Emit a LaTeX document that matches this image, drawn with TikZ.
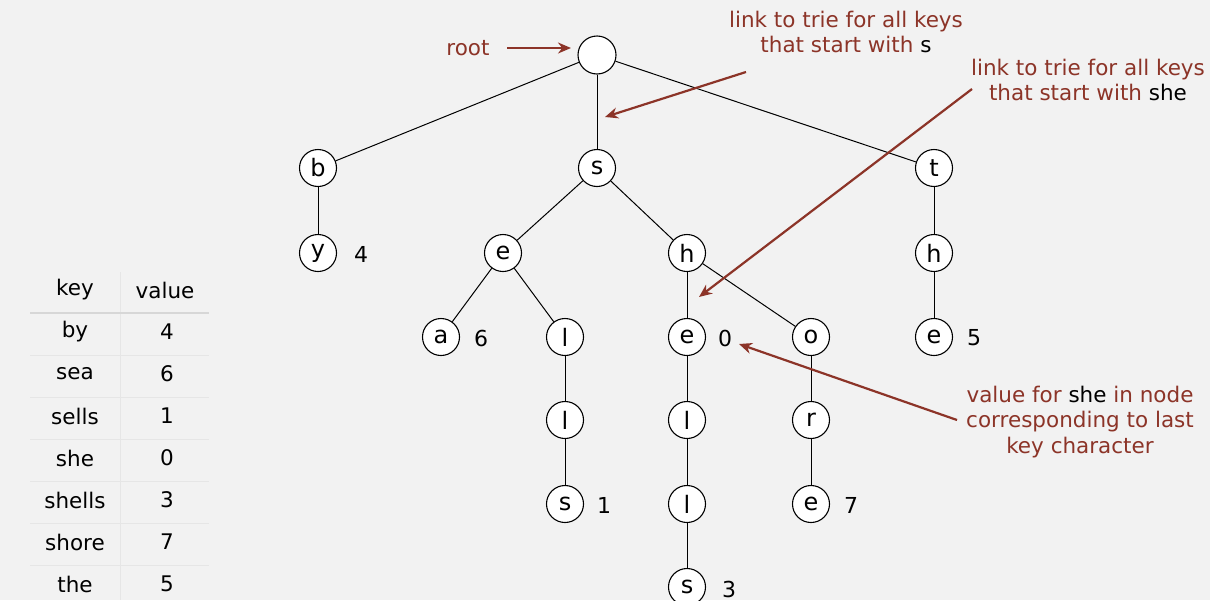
\documentclass[tikz,border=0pt]{standalone}
\usepackage{fontspec}
\setmainfont{DejaVu Sans}
\usetikzlibrary{arrows.meta}
\definecolor{bg}{RGB}{242,242,242}
\definecolor{ann}{RGB}{140,52,40}
\definecolor{rule}{RGB}{215,215,215}
\definecolor{rulel}{RGB}{230,230,230}
\tikzset{
  tn/.style={circle,draw=black,fill=white,line width=1.1pt,minimum size=37pt,inner sep=0pt,font=\fontsize{24}{24}\selectfont},
  rootn/.style={tn,minimum size=38pt},
  edge/.style={line width=1pt},
  val/.style={font=\fontsize{22}{22}\selectfont},
  note/.style={text=ann,font=\fontsize{21.5}{25.5}\selectfont,align=center,inner sep=0pt},
  arr/.style={draw=ann,line width=2.2pt,-{Stealth[length=13pt,width=11pt]}},
  cell/.style={font=\fontsize{21.5}{21.5}\selectfont,inner sep=0pt}
}
\begin{document}
\begin{tikzpicture}[x=1pt,y=-1pt]
\fill[bg] (0,0) rectangle (1210,600);
\useasboundingbox (0,0) rectangle (1210,600);
% table
\draw[rulel,line width=1pt] (120,272) -- (120,600);
\draw[rule,line width=2pt] (30,313) -- (209,313);
\foreach \yy in {355,397,439,481,523,565} \draw[rulel,line width=1pt] (30,\yy) -- (209,\yy);
\node[cell] (hk) at (75,290) {key};
\node[cell] (hv) at (165,290) {value};
\foreach \k/\v [count=\i from 0] in {by/4,sea/6,sells/1,she/0,shells/3,shore/7,the/5}{
  \node[cell] (k\i) at (75,332+42*\i) {\k};
  \node[cell] (v\i) at (167,332+42*\i) {\v};
}
% trie nodes
\node[rootn] (root) at (597,55) {};
\node[tn] (b) at (318,168) {b};
\node[tn] (s) at (597,168) {s};
\node[tn] (t) at (934,168) {t};
\node[tn] (by) at (318,253) {y};
\node[tn] (se) at (503,253) {e};
\node[tn] (sh) at (687,253) {h};
\node[tn] (th) at (934,253) {h};
\node[tn] (sea) at (441,337) {a};
\node[tn] (sel) at (565,337) {l};
\node[tn] (she) at (687,337) {e};
\node[tn] (sho) at (811,337) {o};
\node[tn] (the) at (934,337) {e};
\node[tn] (sell) at (565,420) {l};
\node[tn] (shel) at (687,420) {l};
\node[tn] (shor) at (811,420) {r};
\node[tn] (sells) at (565,504) {s};
\node[tn] (shell) at (687,504) {l};
\node[tn] (shore) at (811,504) {e};
\node[tn] (shells) at (687,587) {s};
% values
\node[val] (v4) at (361,254) {4};
\node[val] (v6) at (481,338) {6};
\node[val] (v0) at (725,338) {0};
\node[val] (v5) at (974,338) {5};
\node[val] (v1) at (604,505) {1};
\node[val] (v7) at (851,505) {7};
\node[val] (v3) at (729,589) {3};
% edges
\draw[edge] (root) -- (b);
\draw[edge] (root) -- (s);
\draw[edge] (root) -- (t);
\draw[edge] (b) -- (by);
\draw[edge] (s) -- (se);
\draw[edge] (s) -- (sh);
\draw[edge] (t) -- (th);
\draw[edge] (se) -- (sea);
\draw[edge] (se) -- (sel);
\draw[edge] (sh) -- (she);
\draw[edge] (sh) -- (sho);
\draw[edge] (th) -- (the);
\draw[edge] (sel) -- (sell);
\draw[edge] (she) -- (shel);
\draw[edge] (sho) -- (shor);
\draw[edge] (sell) -- (sells);
\draw[edge] (shel) -- (shell);
\draw[edge] (shor) -- (shore);
\draw[edge] (shell) -- (shells);
% annotations
\node[note] (nroot) at (468,48) {root};
\node[note] (ns) at (846,32) {link to trie for all keys\\that start with \textcolor{black}{s}};
\node[note] (nshe) at (1088,80) {link to trie for all keys\\that start with \textcolor{black}{she}};
\node[note] (nval) at (1080,422) {value for \textcolor{black}{she} in node\\corresponding to last\\key character};
\coordinate (a1s) at (507,48);
\coordinate (a1e) at (571,48);
\coordinate (a2s) at (746,72);
\coordinate (a2e) at (605,117);
\coordinate (a3s) at (972,89);
\coordinate (a3e) at (699,297);
\coordinate (a4s) at (957,420);
\coordinate (a4e) at (739,344);
\draw[arr] (a1s) -- (a1e);
\draw[arr] (a2s) -- (a2e);
\draw[arr] (a3s) -- (a3e);
\draw[arr] (a4s) -- (a4e);
\end{tikzpicture}
\end{document}
